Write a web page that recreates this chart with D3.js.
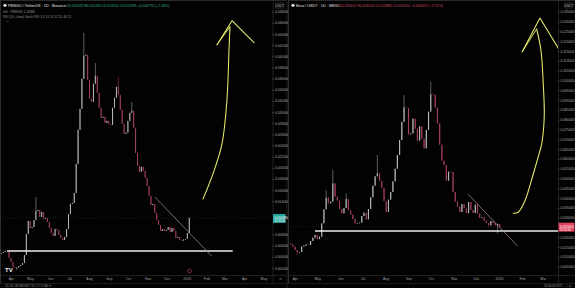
<!DOCTYPE html>
<html><head><meta charset="utf-8">
<script src="https://cdn.jsdelivr.net/npm/d3@7"></script>
<style>html,body{margin:0;padding:0;background:#000;overflow:hidden}svg{display:block;font-family:"Liberation Sans",Arial,sans-serif}</style>
</head><body><svg id="c" width="575" height="288"></svg>
<script>
// ---------------- DATA ----------------
const leftTitle = "PENGU / TetherUS · 1D · Binance";
const leftOHLC = "O0.010325 H0.011445 L0.010220 C0.011095 +0.000770 (+7.46%)";
const leftRow2 = "Vol · PENGU  1.283B";
const leftRow3 = "RSI (14, close) Stoch RSI 3 3 14 14   52.31  48.22";
const rightTitle = "Bera / USDT · 1D · MEXC";
const rightOHLC = "O0.026012 H0.026240 L0.024880 C0.025410 −0.000602 (−2.31%)";

const leftStart = new Date(2025, 2, 17);
const rightStart = new Date(2025, 2, 23);
const candleDays = 3;

const leftFirstOpen = 0.00460;
const leftClose = [0.00469,0.00487,0.00505,0.00487,0.00379,0.00308,0.00218,0.00200,0.00210,0.00236,
0.00254,0.00290,0.00433,0.00811,0.01044,0.00918,0.00936,0.01062,0.01224,0.01242,
0.01116,0.01206,0.01080,0.01098,0.01026,0.00918,0.00829,0.00775,0.00900,0.00880,
0.00793,0.00739,0.00703,0.00757,0.00900,0.01170,0.01350,0.01368,0.01547,0.02069,
0.02680,0.03057,0.03596,0.04009,0.04027,0.03578,0.03237,0.03183,0.03506,0.03650,
0.03344,0.03075,0.02895,0.02913,0.02805,0.02841,0.02787,0.02770,0.03075,0.03255,
0.03452,0.03308,0.03039,0.02787,0.02608,0.02630,0.02841,0.02985,0.03021,0.02715,
0.02266,0.02033,0.01925,0.02015,0.01943,0.01817,0.01673,0.01494,0.01332,0.01350,
0.01188,0.01062,0.00972,0.00865,0.00900,0.00865,0.00883,0.00936,0.00847,0.00918,
0.00865,0.00739,0.00757,0.00703,0.00690,0.00712,0.00721,0.00829,0.01098];
const leftWickHigh = [[18,0.01475],[43,0.0442],[49,0.0388],[61,0.0363],[68,0.0318]];
const leftWickLow = [[8,0.00164]];

const rightFirstOpen = 0.01720;
const rightClose = [0.01692,0.01641,0.01522,0.01352,0.01233,0.01250,0.01522,0.01573,0.01641,0.01607,
0.01811,0.01981,0.02116,0.01913,0.02031,0.02711,0.03425,0.04020,0.03731,0.03816,
0.04750,0.04071,0.03867,0.03442,0.03221,0.03493,0.03952,0.03374,0.03153,0.02932,
0.02711,0.02728,0.02745,0.03085,0.03255,0.02915,0.03442,0.04037,0.04631,0.05107,
0.05260,0.04869,0.04529,0.03850,0.03289,0.03918,0.04309,0.04852,0.05498,0.06195,
0.06959,0.07877,0.08625,0.08591,0.07248,0.07299,0.08047,0.07537,0.06925,0.07656,
0.07027,0.06535,0.07469,0.08404,0.09287,0.09271,0.08608,0.07809,0.06722,0.05906,
0.05685,0.04886,0.05345,0.05328,0.04309,0.03816,0.03561,0.03289,0.03697,0.03476,
0.03238,0.03799,0.03391,0.03238,0.03663,0.03204,0.02983,0.03017,0.02847,0.02728,
0.02609,0.02830,0.02728,0.02609,0.02680,0.02541];
const rightWickHigh = [[17,0.0440],[20,0.0543],[26,0.0425],[40,0.0619],[52,0.0925],[64,0.0993]];
const rightWickLow = [[4,0.0110],[94,0.0220]];

const leftPriceTicks = [0.048,0.046,0.044,0.042,0.040,0.038,0.036,0.034,0.032,0.030,0.028,0.026,0.024,0.022,0.020,0.018,0.016,0.014,0.012,0.010,0.008,0.006,0.004,0.002];
const rightPriceTicks = [0.135,0.130,0.125,0.120,0.115,0.110,0.105,0.100,0.095,0.090,0.085,0.080,0.075,0.070,0.065,0.060,0.055,0.050,0.045,0.040,0.035,0.030,0.025,0.020,0.015,0.010,0.005];
const leftMonths = ["2025-04-01","2025-05-01","2025-06-01","2025-07-01","2025-08-01","2025-09-01","2025-10-01","2025-11-01","2025-12-01","2026-01-01","2026-02-01","2026-03-01","2026-04-01","2026-05-01"];
const rightMonths = ["2025-04-01","2025-05-01","2025-06-01","2025-07-01","2025-08-01","2025-09-01","2025-10-01","2025-11-01","2025-12-01","2026-01-01","2026-02-01","2026-03-01"];

// drawings (support, trendline, arrows) in date / price space; arrows use day offsets from 2025-04-01
const leftSupport = [["2025-03-26",0.00505],["2026-03-14",0.00505]];
const leftTrend = [["2025-11-12",0.01476],["2026-02-09",0.00415]];
const rightSupport = [["2025-04-28",0.0232],["2026-03-25",0.0232]];
const rightTrend = [["2025-11-20",0.04206],["2026-01-26",0.01555]];
const leftArrowShaft = [[300.5,0.01440],[316.1,0.01889],[330.2,0.02428],[338.0,0.03219],[341.2,0.04117],[342.7,0.04530]];
const leftArrowHead = [[322.4,0.04207],[345.9,0.04638],[380.3,0.04243]];
const leftArrowInner = [[322.4,0.04207],[342.7,0.04530]];
const rightArrowShaft = [[294.2,0.03223],[300.9,0.03274],[310.0,0.03865],[321.2,0.05226],[330.2,0.06414],[332.5,0.06755],[336.0,0.08147],[334.6,0.09865],[331.5,0.11547],[325.7,0.12618]];
const rightArrowHead = [[306.3,0.11461],[330.2,0.13179],[354.9,0.11634]];
const rightArrowInner = [[306.3,0.11461],[325.7,0.12618]];

// ---------------- DRAW ----------------
const svg = d3.select("#c");
svg.append("rect").attr("width",575).attr("height",288).attr("fill","#111");
const UP = "#b7bbb8", DOWN = "#a8415a";
const parse = d3.timeParse("%Y-%m-%d");
const arrowBase = new Date(2025,3,1);

function pane(cfg){
  const g = svg.append("g");
  g.append("rect").attr("x",cfg.left).attr("y",0).attr("width",cfg.right-cfg.left).attr("height",288).attr("fill","#020202");
  const x = d3.scaleTime().domain(cfg.xDates).range(cfg.xPix);
  const y = d3.scaleLinear().domain(cfg.yDom).range(cfg.yPix);
  const clipId = "clip"+cfg.id;
  svg.append("clipPath").attr("id",clipId).append("rect")
     .attr("x",cfg.left+1).attr("y",1).attr("width",cfg.axisX-cfg.left-1).attr("height",273);
  const plot = g.append("g").attr("clip-path",`url(#${clipId})`);

  // candles
  const hi = new Map(cfg.wickHigh), lo = new Map(cfg.wickLow);
  const candles = cfg.close.map((c,i)=>{
    const o = i===0 ? cfg.firstOpen : cfg.close[i-1];
    return {date:d3.timeDay.offset(cfg.start,i*candleDays), o, c,
      h: hi.has(i)? hi.get(i) : Math.max(o,c), l: lo.has(i)? lo.get(i) : Math.min(o,c)};
  });
  const step = x(d3.timeDay.offset(cfg.start,candleDays)) - x(cfg.start);
  const bw = step*0.5;
  const cg = plot.append("g");
  cg.selectAll("line").data(candles).join("line")
    .attr("x1",d=>x(d.date)).attr("x2",d=>x(d.date))
    .attr("y1",d=>y(d.h)).attr("y2",d=>y(d.l))
    .attr("stroke",d=>d.c>=d.o?UP:DOWN).attr("stroke-width",0.5);
  cg.selectAll("rect").data(candles).join("rect")
    .attr("x",d=>x(d.date)-bw/2).attr("width",bw)
    .attr("y",d=>y(Math.max(d.o,d.c)))
    .attr("height",d=>Math.max(0.7, Math.abs(y(d.o)-y(d.c))))
    .attr("fill",d=>d.c>=d.o?UP:DOWN);

  const last = candles[candles.length-1];
  const lastCol = last.c>=last.o ? "#26a69a" : "#e0435e";
  plot.append("line").attr("x1",cfg.left).attr("x2",cfg.axisX).attr("y1",y(last.c)).attr("y2",y(last.c))
     .attr("stroke",lastCol).attr("stroke-opacity",0.45).attr("stroke-width",0.5).attr("stroke-dasharray","1,1.5");

  const pt = d => [x(parse(d[0])), y(d[1])];
  const ap = d => [x(new Date(arrowBase.getTime()+d[0]*864e5)), y(d[1])];
  plot.append("path").attr("d",d3.line()(cfg.support.map(pt))).attr("stroke","#ececec").attr("stroke-width",1.7).attr("fill","none");
  plot.append("path").attr("d",d3.line()(cfg.trend.map(pt))).attr("stroke",cfg.trendColor).attr("stroke-width",0.7).attr("fill","none");
  const ylw = "#e3e66a";
  plot.append("path").attr("d",d3.line().curve(d3.curveCatmullRom)(cfg.shaft.map(ap))).attr("stroke",ylw).attr("stroke-width",1.1).attr("fill","none").attr("stroke-linecap","round");
  plot.append("path").attr("d",d3.line()(cfg.head.map(ap))).attr("stroke",ylw).attr("stroke-width",1.1).attr("fill","none").attr("stroke-linejoin","round").attr("stroke-linecap","round");
  plot.append("path").attr("d",d3.line()(cfg.inner.map(ap))).attr("stroke",ylw).attr("stroke-width",1.0).attr("fill","none").attr("stroke-linecap","round");

  // borders
  g.append("line").attr("x1",cfg.left+0.5).attr("x2",cfg.left+0.5).attr("y1",0).attr("y2",283).attr("stroke","#3a3a3a").attr("stroke-width",0.8);
  g.append("line").attr("x1",cfg.left).attr("x2",cfg.right).attr("y1",0.5).attr("y2",0.5).attr("stroke","#2a2a2a");
  g.append("line").attr("x1",cfg.axisX+0.5).attr("x2",cfg.axisX+0.5).attr("y1",0).attr("y2",283).attr("stroke","#2c2c2c").attr("stroke-width",0.7);
  g.append("line").attr("x1",cfg.left).attr("x2",cfg.right).attr("y1",275.5).attr("y2",275.5).attr("stroke","#2c2c2c").attr("stroke-width",0.7);
  g.append("line").attr("x1",cfg.left).attr("x2",cfg.right).attr("y1",283.5).attr("y2",283.5).attr("stroke","#262626").attr("stroke-width",0.7);

  // price axis (the tick hidden under the last-price label is skipped)
  const shown = cfg.priceTicks.filter(t => Math.abs(y(t)-y(last.c)) > 6);
  const ya = g.append("g").attr("transform",`translate(${cfg.axisX},0)`)
    .call(d3.axisRight(y).tickValues(shown).tickFormat(d3.format(".6f")).tickSize(1.2).tickPadding(1.2));
  ya.select(".domain").remove();
  ya.selectAll("line").attr("stroke","#555");
  ya.selectAll("text").attr("fill","#a8a8a8").style("font-size","3.4px").attr("font-family","Liberation Sans, Arial");
  g.append("rect").attr("x",cfg.right-10.5).attr("y",3).attr("width",8.5).attr("height",5).attr("rx",0.8).attr("fill","none").attr("stroke","#555").attr("stroke-width",0.5);
  g.append("text").attr("x",cfg.right-6.25).attr("y",6.6).attr("text-anchor","middle").attr("fill","#bbb").style("font-size","3.1px").text("USDT");
  g.append("rect").attr("x",cfg.axisX+0.5).attr("y",y(last.c)-4).attr("width",cfg.right-cfg.axisX-1).attr("height",9).attr("fill",lastCol);
  g.append("text").attr("x",cfg.axisX+2).attr("y",y(last.c)+0.9).attr("fill","#fff").style("font-size","3.3px").text(d3.format(".6f")(last.c));
  g.append("text").attr("x",cfg.axisX+2).attr("y",y(last.c)+4.3).attr("fill","#fff").style("font-size","2.8px").text("01:55:56");

  // time axis
  const xa = g.append("g").attr("transform","translate(0,277)")
    .call(d3.axisBottom(x).tickValues(cfg.months.map(parse)).tickFormat(d=>d.getMonth()===0?String(d.getFullYear()):d3.timeFormat("%b")(d)).tickSize(0).tickPadding(1));
  xa.select(".domain").remove();
  xa.selectAll("text").attr("fill","#a0a0a0").style("font-size","3.5px").attr("font-family","Liberation Sans, Arial");

  // header
  g.append("text").attr("x",cfg.left+8).attr("y",6.8).attr("fill","#e2e2e2").style("font-size","3.8px").text(cfg.title);
  g.append("text").attr("x",cfg.ohlcX).attr("y",6.8).attr("fill",cfg.ohlcColor).style("font-size","3.5px").text(cfg.ohlc);
  g.append("circle").attr("cx",cfg.left+5).attr("cy",5.3).attr("r",1.6).attr("fill","#ddd");
  return {x,y,g};
}

const L = pane({id:"L", left:0, right:286, axisX:272.5,
  xDates:[new Date(2025,3,1), new Date(2026,0,1)], xPix:[11,186.7],
  yDom:[0.002,0.048], yPix:[268,11.7],
  start:leftStart, firstOpen:leftFirstOpen, close:leftClose, wickHigh:leftWickHigh, wickLow:leftWickLow,
  priceTicks:leftPriceTicks, months:leftMonths,
  support:leftSupport, trend:leftTrend, trendColor:"#9a9a9a",
  shaft:leftArrowShaft, head:leftArrowHead, inner:leftArrowInner,
  title:leftTitle, ohlc:leftOHLC, ohlcX:66, ohlcColor:"#3fae8f"});
L.g.append("text").attr("x",3).attr("y",12.6).attr("fill","#8f8f8f").style("font-size","3.4px").text(leftRow2);
L.g.append("text").attr("x",3).attr("y",17.6).attr("fill","#8f8f8f").style("font-size","3.2px").text(leftRow3);
L.g.append("text").attr("x",5.5).attr("y",24).attr("fill","#aaa").style("font-size","4px").text("⌃");
L.g.append("text").attr("x",5).attr("y",271.5).attr("fill","#f0f0f0").attr("font-weight","bold").style("font-size","6px").text("TV");
L.g.append("circle").attr("cx",189.5).attr("cy",271).attr("r",2).attr("fill","none").attr("stroke","#b84a55").attr("stroke-width",0.6);
L.g.append("text").attr("x",5).attr("y",287).attr("fill","#888").style("font-size","3px").text("1D  5D  1M  3M  6M  YTD  1Y  5Y  All  ⟳");
L.g.append("text").attr("x",279).attr("y",280).attr("fill","#888").style("font-size","3.4px").text("⚙");

const R = pane({id:"R", left:288, right:575, axisX:558,
  xDates:[new Date(2025,3,1), new Date(2026,0,1)], xPix:[295,499],
  yDom:[0.005,0.135], yPix:[266.7,11.7],
  start:rightStart, firstOpen:rightFirstOpen, close:rightClose, wickHigh:rightWickHigh, wickLow:rightWickLow,
  priceTicks:rightPriceTicks, months:rightMonths,
  support:rightSupport, trend:rightTrend, trendColor:"#b79aa0",
  shaft:rightArrowShaft, head:rightArrowHead, inner:rightArrowInner,
  title:rightTitle, ohlc:rightOHLC, ohlcX:339, ohlcColor:"#c24a5e"});
R.g.append("text").attr("x",544).attr("y",287).attr("fill","#999").style("font-size","3px").text("22:04:04 UTC");
R.g.append("text").attr("x",566).attr("y",287).attr("fill","#888").style("font-size","3px").text("⤢ ⚙");
</script></body></html>
